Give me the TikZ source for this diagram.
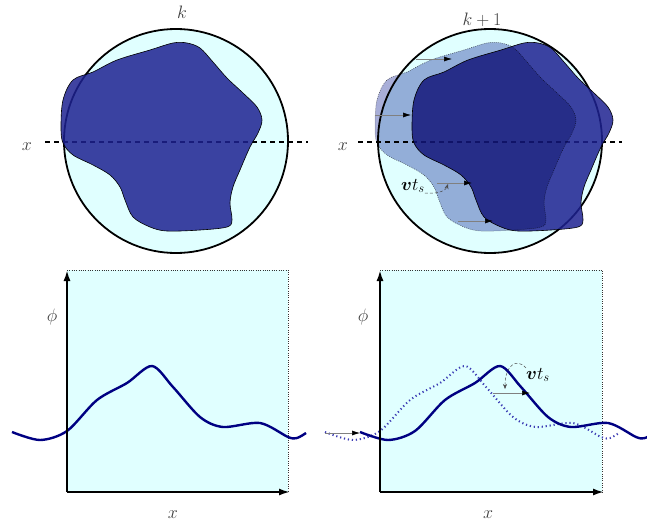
\documentclass[tikz,border=0pt]{standalone}
\usepackage{fix-cm}
\usepackage{amsmath}
\usetikzlibrary{arrows.meta,calc}

\definecolor{cellbg}{RGB}{224,255,255}
\definecolor{phaseblue}{RGB}{30,34,145}
\definecolor{phaseold}{RGB}{168,174,216}
\definecolor{curveblue}{RGB}{0,0,130}
\definecolor{curveold}{RGB}{60,60,180}

\begin{document}
\begin{tikzpicture}[x=1pt, y=-1pt,
    lbl/.style={text=black!75, font=\fontsize{18}{22}\selectfont, inner sep=0pt},
    vlbl/.style={text=black, font=\fontsize{18}{22}\selectfont, inner sep=0pt},
    cell/.style={draw=black, line width=1.8pt, fill=cellbg},
    cut/.style={draw=black, line width=1.8pt, dash pattern=on 5pt off 4pt},
    blob/.style={insert path={plot[smooth cycle, tension=0.55] coordinates{
        (-83,-69) (-59,-81) (-26,-91) (-3,-98) (11,-98) (24,-93) (37,-79)
        (51,-63) (67,-48) (81,-34) (86,-21) (82,-8) (74,6) (64,29) (57,46)
        (54,62) (56,79) (51,86) (24,89) (-9,90) (-26,86) (-43,76) (-51,59)
        (-56,46) (-66,34) (-83,24) (-103,14) (-113,2) (-115,-14) (-113,-41)
        (-103,-61)}}},
    wave/.style={insert path={plot[smooth] coordinates{
        (-55,432) (-27,440) (0,431) (30,400) (60,383) (85,366) (106,387)
        (133,417) (156,427) (193,423) (221,437) (230,438) (239,433)}}},
    phase/.style={fill=phaseblue, fill opacity=0.85, draw=black, line width=0.6pt},
    oldphase/.style={fill=phaseold, blend mode=multiply, draw=black!70,
        line width=0.5pt, dash pattern=on 0.8pt off 1.2pt},
    frame/.style={draw=black!80, line width=0.5pt, dash pattern=on 0.8pt off 1.5pt},
    axis/.style={line width=2pt, -{Latex[length=11pt,width=7pt]}},
    profile/.style={draw=curveblue, line width=2.4pt},
    oldprofile/.style={draw=curveold, line width=2pt, dash pattern=on 1.2pt off 2.8pt},
    move/.style={draw=black!50, line width=0.6pt, -{Latex[length=8pt,width=5pt,color=black]}},
    note/.style={draw=black!70, line width=0.5pt, dash pattern=on 3pt off 2pt,
        -{Stealth[length=5pt,width=4pt]}}
]
\useasboundingbox (0,0) rectangle (647,524);

% top left: step k
\coordinate (c1) at (176,141);
\draw[cell] (c1) circle[radius=112pt];
\coordinate (cutL1) at (45,142);
\coordinate (cutR1) at (308,142);
\draw[cut] (cutL1) -- (cutR1);
\path[phase, shift={(176,141)}, blob];
\node[lbl] (k1) at (182,12) {$k$};
\node[lbl] (x1) at (27,147) {$x$};

% top right: step k+1
\coordinate (c2) at (490,141);
\draw[cell] (c2) circle[radius=112pt];
\coordinate (cutL2) at (358,142);
\coordinate (cutR2) at (622,142);
\draw[cut] (cutL2) -- (cutR2);
\path[phase, shift={(527,141)}, blob];
\path[oldphase, shift={(490,141)}, blob];
\node[lbl] (k2) at (482,20) {$k+1$};
\node[lbl] (x2) at (343,147) {$x$};

\coordinate (a1) at (416,59);  \coordinate (b1) at (452,59);
\coordinate (a2) at (375,115); \coordinate (b2) at (411,115);
\coordinate (a3) at (437,183); \coordinate (b3) at (472,183);
\coordinate (a4) at (458,221); \coordinate (b4) at (493,221);
\foreach \i in {1,...,4}
    \draw[move] (a\i) -- (b\i);
\node[vlbl] (vt1) at (413,186) {$\boldsymbol{v}t_{s}$};
\draw[note] (vt1.south east) .. controls (440,194) and (446,190) .. (448,184);

% bottom left: profile at step k
\fill[cellbg] (67,270) rectangle (288,492);
\draw[frame] (67,270) -- (288,270) -- (288,492);
\path[profile, shift={(67,0)}, wave];
\coordinate (o1) at (67,492);
\draw[axis] (o1) -- (67,270);
\draw[axis] (o1) -- (290,492);
\node[lbl] (phi1) at (52,317) {$\phi$};
\node[lbl] (xa1) at (173,515) {$x$};

% bottom right: profile at step k+1
\fill[cellbg] (380,270) rectangle (602,492);
\draw[frame] (380,270) -- (602,270) -- (602,492);
\path[oldprofile, shift={(380,0)}, wave];
\path[profile, shift={(415,0)}, wave];
\coordinate (o2) at (380,492);
\draw[axis] (o2) -- (380,270);
\draw[axis] (o2) -- (604,492);
\node[lbl] (phi2) at (363,317) {$\phi$};
\node[lbl] (xa2) at (488,515) {$x$};

\coordinate (a5) at (325,433); \coordinate (b5) at (360,433);
\coordinate (a6) at (493,393); \coordinate (b6) at (530,393);
\draw[move] (a5) -- (b5);
\draw[move] (a6) -- (b6);
\node[vlbl] (vt2) at (538,375) {$\boldsymbol{v}t_{s}$};
\draw[note] (vt2.north west) .. controls (516,357) and (505,366) .. (505,389);
\end{tikzpicture}
\end{document}
